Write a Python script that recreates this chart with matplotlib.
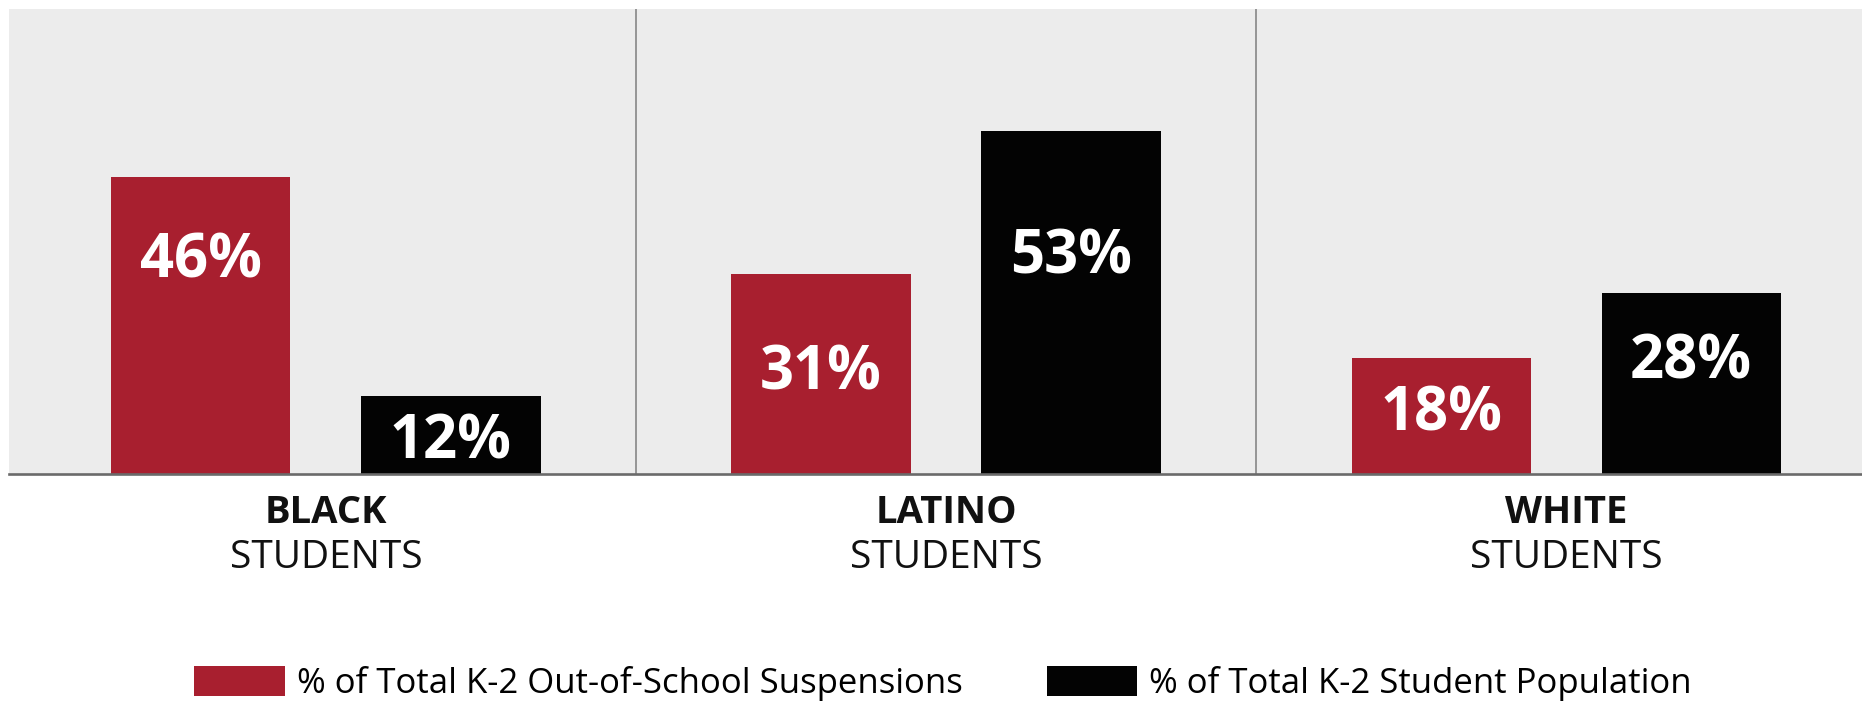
import matplotlib
matplotlib.use("Agg")
import matplotlib.pyplot as plt
import numpy as np

# ---- data ----
groups = ["BLACK", "LATINO", "WHITE"]
group_sub = "STUDENTS"
suspensions = [46, 31, 18]      # % of Total K-2 Out-of-School Suspensions
population = [12, 53, 28]       # % of Total K-2 Student Population
series_names = ["% of Total K-2 Out-of-School Suspensions",
                "% of Total K-2 Student Population"]

# ---- style ----
RED = "#A81F2F"
BLACK = "#030303"
BG = "#ECECEC"
FONT = "Open Sans"
plt.rcParams["font.family"] = [FONT, "DejaVu Sans"]

W, H, DPI = 1862, 704, 100
fig = plt.figure(figsize=(W / DPI, H / DPI), dpi=DPI)
fig.patch.set_facecolor("white")

left_px, top_px, base_px = 9, 9, 474
ax = fig.add_axes([left_px / W, (H - base_px) / H,
                   (W - left_px) / W, (base_px - top_px) / H])
ax.set_facecolor(BG)

x = np.arange(len(groups))
off, bw = 0.2016, 0.289
b1 = ax.bar(x - off, suspensions, width=bw, color=RED, label=series_names[0], zorder=3)
b2 = ax.bar(x + off, population, width=bw, color=BLACK, label=series_names[1], zorder=3)

ax.set_xlim(-0.511, 2.477)
ax.set_ylim(0, 71.9)

for s in ["top", "left", "right"]:
    ax.spines[s].set_visible(False)
ax.spines["bottom"].set_color("#6A6A6A")
ax.spines["bottom"].set_linewidth(1.9)
ax.spines["bottom"].set_zorder(5)
ax.set_xticks([])
ax.set_yticks([])

for d in [0.5, 1.5]:
    ax.axvline(d, color="#7E7E7E", lw=1.1, zorder=2)

# value labels (offset below bar top, in pixels)
drops_red = [85, 100, 57]
drops_blk = [47, 127, 70]
for bars, vals, drops in [(b1, suspensions, drops_red), (b2, population, drops_blk)]:
    for rect, v, d in zip(bars, vals, drops):
        cx = rect.get_x() + rect.get_width() / 2
        ax.annotate(f"{v}%", xy=(cx, rect.get_height()), xycoords="data",
                    xytext=(0, -d), textcoords="offset pixels",
                    ha="center", va="center", color="white",
                    fontsize=43, fontweight="bold", zorder=6)

# category labels
for i, g in enumerate(groups):
    ax.annotate(g, xy=(i, 0), xycoords="data", xytext=(0, -39),
                textcoords="offset pixels", ha="center", va="center",
                fontsize=27.5, fontweight="bold", color="#111111",
                annotation_clip=False)
    ax.annotate(group_sub, xy=(i, 0), xycoords="data", xytext=(0, -84),
                textcoords="offset pixels", ha="center", va="center",
                fontsize=28, color="#111111", annotation_clip=False)

# legend
fs = 25
fig.legend(handles=[b1, b2], labels=series_names, loc="center",
           bbox_to_anchor=(943 / W, 20.5 / H), ncol=2, frameon=False,
           fontsize=fs, handlelength=2.6, handleheight=0.95,
           handletextpad=0.35, columnspacing=2.42, borderpad=0,
           borderaxespad=0)

fig.savefig("out.png", dpi=DPI, facecolor="white")
